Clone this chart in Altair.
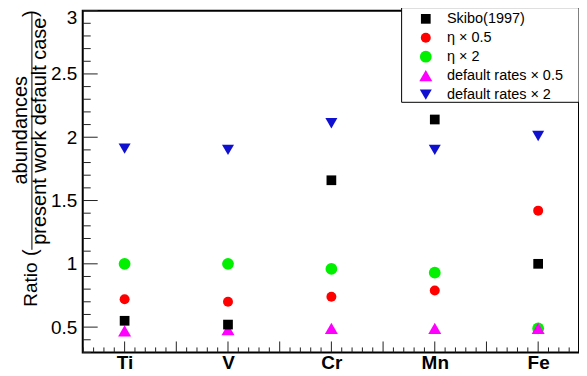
import json
import altair as alt
import pandas as pd

# ---- data ----
elements = ["Ti", "V", "Cr", "Mn", "Fe"]
series_names = ["Skibo(1997)", "η × 0.5", "η × 2", "default rates × 0.5", "default rates × 2"]
skibo = [0.55, 0.52, 1.66, 2.14, 1.00]
eta_half = [0.72, 0.70, 0.74, 0.79, 1.42]
eta_double = [1.00, 1.00, 0.96, 0.93, 0.49]
rates_half = [0.47, 0.48, 0.49, 0.49, 0.49]
rates_double = [1.91, 1.90, 2.11, 1.90, 2.01]
y_tick_labels = [0.5, 1, 1.5, 2, 2.5, 3]

title_ratio = "Ratio"
title_num = "abundances"
title_den = "present work default case"

# ---- styles ----
colors = ["#000000", "#ff0000", "#00f000", "#ff00ff", "#1010d0"]
shapes = ["square", "circle", "circle", "triangle-up", "triangle-down"]
sizes = [95, 100, 140, 170, 145]
FONT = "Liberation Sans"

values = [skibo, eta_half, eta_double, rates_half, rates_double]
draw_order = [1, 2, 3, 4, 0]
rows = []
for s in draw_order:
    for i, el in enumerate(elements):
        rows.append({"series": series_names[s], "pos": i + 1, "element": el, "ratio": values[s][i]})
df = pd.DataFrame(rows)

xdom = [0.595, 5.395]
ydom = [0.3, 3.0]
xscale = alt.Scale(domain=xdom, nice=False, zero=False)
yscale = alt.Scale(domain=ydom, nice=False, zero=False)

label_expr = json.dumps(elements) + "[round(datum.value) - 1]"

x_axis = alt.Axis(values=[1, 2, 3, 4, 5], labelExpr=label_expr, ticks=False, domain=False,
                  grid=False, title=None, labelFont=FONT, labelFontWeight="bold",
                  labelFontSize=19, labelPadding=1, labelColor="black",
                  labelFlush=False, labelOverlap=False, labelBound=False)
y_axis = alt.Axis(values=y_tick_labels, labelExpr="'' + datum.value", ticks=False,
                  domain=False, grid=False, title=None, labelFont=FONT,
                  labelFontSize=19, labelPadding=6, labelColor="black",
                  labelOffset=alt.ExprRef(expr="datum.value == 3 ? 7 : 0"),
                  labelFlush=False, labelOverlap=False, labelBound=False)

points = alt.Chart(df).mark_point(filled=True, opacity=1, strokeWidth=0).encode(
    x=alt.X("pos:Q", scale=xscale, axis=x_axis),
    y=alt.Y("ratio:Q", scale=yscale, axis=y_axis),
    color=alt.Color("series:N", scale=alt.Scale(domain=series_names, range=colors), title=None),
    shape=alt.Shape("series:N", scale=alt.Scale(domain=series_names, range=shapes), title=None),
    size=alt.Size("series:N", scale=alt.Scale(type="ordinal", domain=series_names, range=sizes),
                  title=None),
)

# ---- inward ROOT-style ticks ----
y_major = [round(0.5 * k, 1) for k in range(1, 7)]
y_minor = [round(0.1 * k, 1) for k in range(3, 31) if round(0.1 * k, 1) not in y_major]
x_major = [round(0.5 * k, 1) for k in range(2, 11)]
x_minor = [round(0.1 * k, 1) for k in range(6, 54) if round(0.1 * k, 1) not in x_major]

tick_color = "#222222"
ytm = alt.Chart(pd.DataFrame({"ratio": y_major})).mark_rule(color=tick_color, strokeWidth=1).encode(
    y=alt.Y("ratio:Q", scale=yscale, axis=y_axis), x=alt.value(0), x2=alt.value(15))
ytn = alt.Chart(pd.DataFrame({"ratio": y_minor})).mark_rule(color=tick_color, strokeWidth=1).encode(
    y=alt.Y("ratio:Q", scale=yscale, axis=y_axis), x=alt.value(0), x2=alt.value(8))
xtm = alt.Chart(pd.DataFrame({"pos": x_major})).mark_rule(color=tick_color, strokeWidth=1).encode(
    x=alt.X("pos:Q", scale=xscale, axis=x_axis), y=alt.value(343), y2=alt.value(332))
xtn = alt.Chart(pd.DataFrame({"pos": x_minor})).mark_rule(color=tick_color, strokeWidth=1).encode(
    x=alt.X("pos:Q", scale=xscale, axis=x_axis), y=alt.value(343), y2=alt.value(338))

# ---- legend frame (ROOT TLegend box, flush with the right frame) ----
legend_box = alt.Chart(pd.DataFrame({"t": [0]})).mark_rect(
    fill="white", stroke="black", strokeWidth=1
).encode(x=alt.value(320), x2=alt.value(498), y=alt.value(-3), y2=alt.value(92))

# ---- y axis title: Ratio ( abundances / present work default case ) ----
def vtext(t, x, y, size=20):
    return alt.Chart(pd.DataFrame({"t": [t]})).mark_text(
        font=FONT, fontSize=size, angle=270, align="center", baseline="alphabetic", color="black"
    ).encode(text="t:N", x=alt.value(x), y=alt.value(y))

t_ratio = vtext(title_ratio, -46, 275, 19)
t_lp = vtext("(", -46, 243)
t_rp = vtext(")", -46, 3)
t_num = vtext(title_num, -56, 120)
t_den = vtext(title_den, -37, 121)
bar = alt.Chart(pd.DataFrame({"t": [0]})).mark_rule(color="black", strokeWidth=1).encode(
    x=alt.value(-51), y=alt.value(2), y2=alt.value(240))

chart = alt.layer(points, ytn, ytm, xtn, xtm, legend_box,
                  t_ratio, t_lp, t_rp, t_num, t_den, bar).properties(
    width=498, height=343,
    autosize=alt.AutoSizeParams(type="none"),
    padding={"left": 75, "top": 2, "right": 0, "bottom": 20},
).configure_view(
    stroke="black", strokeWidth=2
).configure_legend(
    orient="none", legendX=320, legendY=-4,
    strokeColor="transparent", fillColor="transparent", padding=5, cornerRadius=0,
    labelFont=FONT, labelFontSize=14.5, labelColor="black",
    symbolOffset=12, labelOffset=14, rowPadding=4, symbolStrokeWidth=0,
)

chart.save("out.html", embed_options={"renderer": "svg", "actions": False})
